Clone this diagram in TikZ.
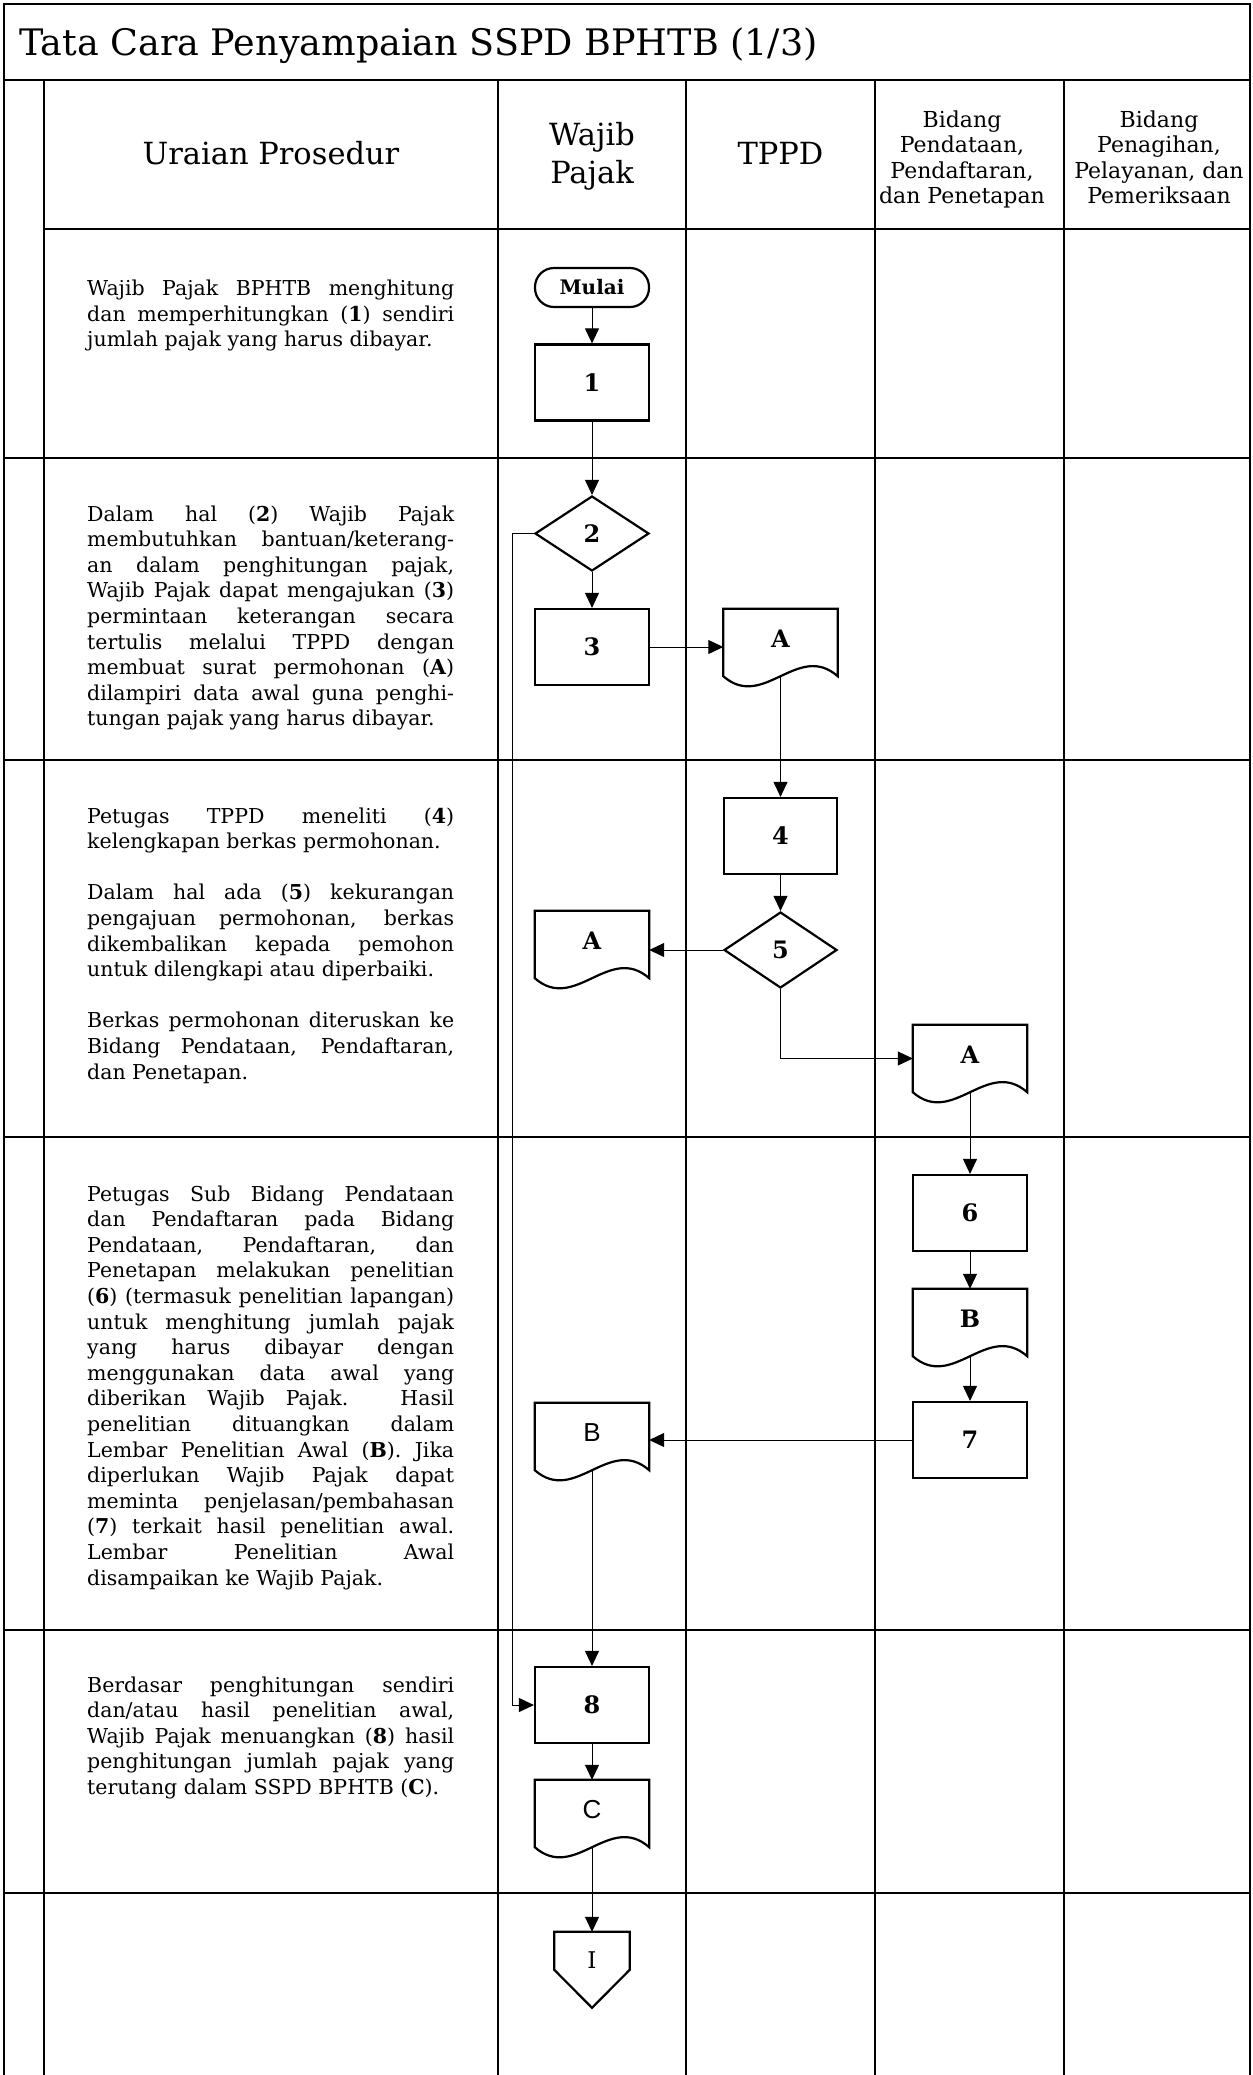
\documentclass[tikz,border=0pt]{standalone}
\usepackage{fontspec}
\setmainfont{DejaVu Serif}
\newfontfamily\lsans{Liberation Sans}
\usetikzlibrary{arrows.meta,calc,shapes.geometric}

\newlength\tw \setlength\tw{367pt}
\newcommand\jl[1]{\makebox[\tw][s]{#1}}
\newcommand\drawdoc[1]{\draw[docline] (#1.north west) -- (#1.north east) -- (#1.south east) .. controls ($(#1.south east)+(-40,-35)$) and ($(#1.south west)+(40,35)$) .. (#1.south west) -- cycle;}

\tikzset{
 tbl/.style={line width=2pt},
 rowline/.style={line width=2.6pt},
 shp/.style={draw, line width=2.2pt, minimum width=114pt, minimum height=76pt, inner sep=0pt, font=\fontsize{24}{28}\selectfont\bfseries},
 proc/.style={shp, rectangle},
 dec/.style={shp, diamond, minimum height=75pt},
 term/.style={draw, line width=2.2pt, rectangle, rounded corners=19pt, minimum width=114pt, minimum height=39pt, inner sep=0pt, font=\fontsize{20}{24}\selectfont\bfseries},
 doc/.style={rectangle, minimum width=114pt, minimum height=67pt, inner sep=0pt, text height=17pt, text depth=8pt, font=\fontsize{24}{28}\selectfont\bfseries},
 sansdoc/.style={doc, font=\lsans\fontsize{26}{28}\selectfont},
 docline/.style={line width=2.2pt},
 conn/.style={line width=1pt, -{Triangle[length=15pt,width=14pt]}},
 body/.style={anchor=north west, inner sep=0pt, align=left, font=\fontsize{20.5}{25.6}\selectfont},
 hbig/.style={inner sep=0pt, align=center, font=\fontsize{30.5}{38}\selectfont},
 hsmall/.style={anchor=north, inner sep=0pt, align=center, font=\fontsize{22}{25.5}\selectfont},
}

\begin{document}
\begin{tikzpicture}[x=1pt,y=-1pt]
\useasboundingbox (0,0) rectangle (1253,2075);

% table frame
\draw[line width=2.5pt] (4,2075) -- (4,4) -- (1250,4) -- (1250,2075);
\draw[rowline] (4,80) -- (1250,80);
\draw[tbl] (43.5,80) -- (43.5,2075);
\draw[rowline] (43.5,229) -- (1250,229);
\foreach \x in {498,686,875,1064} \draw[tbl] (\x,80) -- (\x,2075);
\foreach \y in {458,760,1137,1630,1893} \draw[rowline] (4,\y) -- (1250,\y);

% title and headers
\node[anchor=base west, inner sep=0pt, font=\fontsize{36.5}{40}\selectfont] (title) at (19,55) {Tata Cara Penyampaian SSPD BPHTB (1/3)};
\node[hbig, anchor=base] (hUr) at (271,164) {Uraian Prosedur};
\node[hbig, anchor=north] (hWP) at (592,121.8) {Wajib\\Pajak};
\node[hbig, anchor=base] (hTP) at (780.5,164) {TPPD};
\node[hsmall] (hBP) at (962,110.3) {Bidang\\Pendataan,\\Pendaftaran,\\dan Penetapan};
\node[hsmall] (hBQ) at (1159,110.3) {Bidang\\Penagihan,\\Pelayanan, dan\\Pemeriksaan};

% descriptions
\node[body] (t1) at (87,280) {\jl{Wajib Pajak BPHTB menghitung}\\
\jl{dan memperhitungkan (\textbf{1}) sendiri}\\
jumlah pajak yang harus dibayar.};

\node[body] (t2) at (87,505.4) {\jl{Dalam hal (\textbf{2}) Wajib Pajak}\\
\jl{membutuhkan bantuan/keterang-}\\
\jl{an dalam penghitungan pajak,}\\
\jl{Wajib Pajak dapat mengajukan (\textbf{3})}\\
\jl{permintaan keterangan secara}\\
\jl{tertulis melalui TPPD dengan}\\
\jl{membuat surat permohonan (\textbf{A})}\\
\jl{dilampiri data awal guna penghi-}\\
tungan pajak yang harus dibayar.};

\node[body] (t3) at (87,807.4) {\jl{Petugas TPPD meneliti (\textbf{4})}\\
kelengkapan berkas permohonan.\\[25.6pt]
\jl{Dalam hal ada (\textbf{5}) kekurangan}\\
\jl{pengajuan permohonan, berkas}\\
\jl{dikembalikan kepada pemohon}\\
untuk dilengkapi atau diperbaiki.\\[25.6pt]
\jl{Berkas permohonan diteruskan ke}\\
\jl{Bidang Pendataan, Pendaftaran,}\\
dan Penetapan.};

\node[body] (t4) at (87,1185.4) {\jl{Petugas Sub Bidang Pendataan}\\
\jl{dan Pendaftaran pada Bidang}\\
\jl{Pendataan, Pendaftaran, dan}\\
\jl{Penetapan melakukan penelitian}\\
\jl{(\textbf{6}) (termasuk penelitian lapangan)}\\
\jl{untuk menghitung jumlah pajak}\\
\jl{yang harus dibayar dengan}\\
\jl{menggunakan data awal yang}\\
\jl{diberikan Wajib Pajak. Hasil}\\
\jl{penelitian dituangkan dalam}\\
\jl{Lembar Penelitian Awal (\textbf{B}). Jika}\\
\jl{diperlukan Wajib Pajak dapat}\\
\jl{meminta penjelasan/pembahasan}\\
\jl{(\textbf{7}) terkait hasil penelitian awal.}\\
\jl{Lembar Penelitian Awal}\\
disampaikan ke Wajib Pajak.};

\node[body] (t5) at (87,1676.4) {\jl{Berdasar penghitungan sendiri}\\
\jl{dan/atau hasil penelitian awal,}\\
\jl{Wajib Pajak menuangkan (\textbf{8}) hasil}\\
\jl{penghitungan jumlah pajak yang}\\
terutang dalam SSPD BPHTB (\textbf{C}).};

% flow shapes
\node[term] (mulai) at (592,287.5) {Mulai};
\node[proc] (b1) at (592,382.5) {1};
\node[dec] (d2) at (592,533.5) {2};
\node[proc] (b3) at (592,647) {3};
\node[doc] (dA1) at (780.5,642.5) {A};
\node[proc, minimum width=113pt] (b4) at (780.5,836) {4};
\node[dec, minimum width=113pt, minimum height=76pt] (d5) at (780.5,950) {5};
\node[doc] (dA2) at (592,944.5) {A};
\node[doc] (dA3) at (970,1058.5) {A};
\node[proc] (b6) at (970,1213) {6};
\node[doc] (dB1) at (970,1322.5) {B};
\node[proc] (b7) at (970,1440) {7};
\node[sansdoc] (dB2) at (592,1436.5) {B};
\node[proc] (b8) at (592,1705) {8};
\node[sansdoc] (dC) at (592,1813.5) {C};
\node[rectangle, minimum width=75pt, minimum height=56pt, inner sep=0pt, font=\fontsize{23}{26}\selectfont] (offI) at (592,1960) {I};

\drawdoc{dA1}
\drawdoc{dA2}
\drawdoc{dA3}
\drawdoc{dB1}
\drawdoc{dB2}
\drawdoc{dC}
\draw[docline] (offI.north west) -- (offI.north east) -- ($(offI.north east)+(0,38)$) -- ($(offI.north)+(0,76)$) -- ($(offI.north west)+(0,38)$) -- cycle;

% connectors
\draw[conn] (mulai) -- (b1);
\draw[conn] (b1) -- (d2);
\draw[conn] (d2) -- (b3);
\coordinate (c2) at (512,533.5);
\draw[conn] (d2.west) -- (c2) |- (b8.west);
\draw[conn] (b3.east) -- (b3.east -| dA1.west);
\draw[conn] (dA1.south) -- (b4.north);
\draw[conn] (b4) -- (d5);
\draw[conn] (d5.west) -- (d5.west -| dA2.east);
\draw[conn] (d5.south) |- (dA3.west);
\draw[conn] (dA3.south) -- (b6.north);
\draw[conn] (b6) -- (dB1);
\draw[conn] (dB1.south) -- (b7.north);
\draw[conn] (b7.west) -- (b7.west -| dB2.east);
\draw[conn] (dB2.south) -- (b8.north);
\draw[conn] (b8) -- (dC);
\draw[conn] (dC.south) -- (offI.north);
\end{tikzpicture}
\end{document}
